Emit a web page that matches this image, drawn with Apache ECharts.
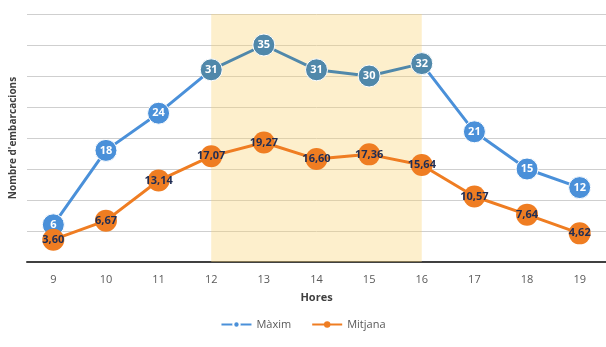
<!DOCTYPE html>
<html>
<head>
<meta charset="utf-8">
<script src="https://cdn.jsdelivr.net/npm/echarts@6/dist/echarts.min.js"></script>
<style>
  html, body { margin: 0; padding: 0; background: #fff; }
  #chart { width: 606px; height: 347px; }
</style>
</head>
<body>
<div id="chart"></div>
<script>
// dades llegides del gràfic
const hores = ['9', '10', '11', '12', '13', '14', '15', '16', '17', '18', '19']
const maxim = [6, 18, 24, 31, 35, 31, 30, 32, 21, 15, 12]
const mitjana = [3.60, 6.67, 13.14, 17.07, 19.27, 16.60, 17.36, 15.64, 10.57, 7.64, 4.62]
const franjaInici = '12'
const franjaFi = '16'

const chart = echarts.init(document.getElementById('chart'))

const fmtComa = p => p.value.toFixed(2).replace('.', ',')

const option = {
  animation: false,
  textStyle: { fontFamily: 'Open Sans, DejaVu Sans, sans-serif' },
  grid: { left: 27, right: -3, top: 14, bottom: 85 },
  legend: {
    bottom: 12,
    left: 'center',
    itemWidth: 30,
    itemHeight: 8,
    itemGap: 20,
    textStyle: { color: '#595959', fontSize: 11 },
    data: ['Màxim', 'Mitjana']
  },
  // la franja groga tenyeix la línia blava
  visualMap: {
    show: false,
    type: 'piecewise',
    seriesIndex: 0,
    dimension: 0,
    pieces: [
      { lt: 3, color: '#4a90d9' },
      { gte: 3, lte: 7, color: '#5088aa' },
      { gt: 7, color: '#4a90d9' }
    ]
  },
  xAxis: {
    type: 'category',
    data: hores,
    name: 'Hores',
    nameLocation: 'middle',
    nameGap: 30,
    nameTextStyle: { color: '#404040', fontWeight: 'bold', fontSize: 11 },
    axisLine: { lineStyle: { color: '#404040', width: 2 } },
    axisTick: { show: false },
    axisLabel: { color: '#595959', fontSize: 11, margin: 12 }
  },
  yAxis: {
    type: 'value',
    min: 0,
    max: 40,
    interval: 5,
    name: "Nombre d'embarcacions",
    nameLocation: 'middle',
    nameGap: 9,
    nameTextStyle: { color: '#404040', fontWeight: 'bold', fontSize: 10 },
    axisLabel: { show: false },
    axisLine: { show: false },
    axisTick: { show: false },
    splitLine: { lineStyle: { color: '#cfcfcf', width: 1 } }
  },
  series: [
    {
      name: 'Màxim',
      type: 'line',
      data: maxim,
      color: '#4a90d9',
      symbol: 'circle',
      symbolSize: 22,
      lineStyle: { width: 3 },
      itemStyle: { borderColor: '#fff', borderWidth: 1 },
      label: {
        show: true,
        position: 'inside',
        color: '#fff',
        fontSize: 11,
        fontWeight: 'bold'
      },
      z: 3
    },
    {
      name: 'Mitjana',
      type: 'line',
      data: mitjana,
      color: '#ef7d22',
      symbol: 'circle',
      symbolSize: 22,
      lineStyle: { width: 3 },
      itemStyle: { color: '#ef7d22' },
      label: {
        show: true,
        position: 'inside',
        color: '#1f2d54',
        fontSize: 11,
        fontWeight: 'bold',
        formatter: fmtComa
      },
      z: 3,
      markArea: {
        silent: true,
        itemStyle: { color: 'rgba(250, 212, 115, 0.36)' },
        data: [[{ xAxis: franjaInici, yAxis: 40 }, { xAxis: franjaFi, yAxis: 0 }]]
      }
    }
  ]
}

chart.setOption(option)
</script>
</body>
</html>
